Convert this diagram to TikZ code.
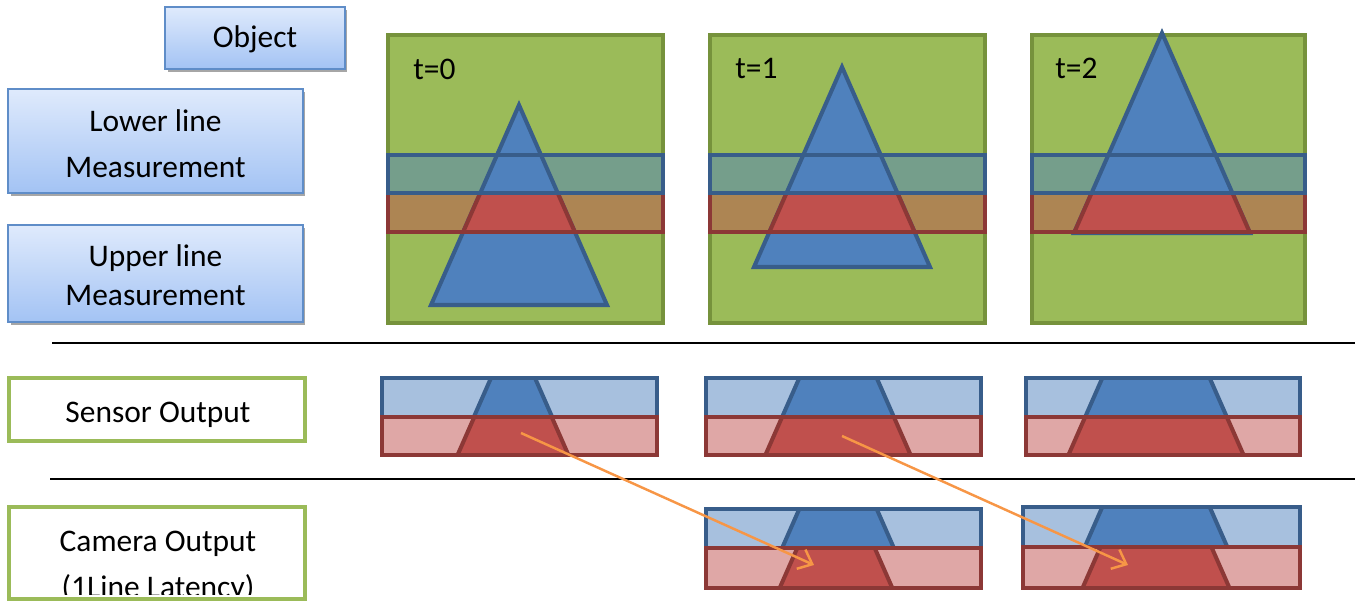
\documentclass[tikz,border=0pt]{standalone}
\usepackage{fontspec}
\setmainfont{Carlito}
\usetikzlibrary{arrows.meta,shadows}
\definecolor{grfill}{HTML}{9BBB59}
\definecolor{grline}{HTML}{76923C}
\definecolor{bfill}{HTML}{4F81BD}
\definecolor{bline}{HTML}{385D8A}
\definecolor{rfill}{HTML}{C0504D}
\definecolor{rline}{HTML}{8C3836}
\definecolor{bandb}{HTML}{759E8B}
\definecolor{bandr}{HTML}{AD8553}
\definecolor{lightb}{HTML}{A7C0DE}
\definecolor{lightr}{HTML}{DFA7A6}
\definecolor{arrcol}{HTML}{F79646}
\definecolor{boxtop}{HTML}{DFEAFC}
\definecolor{boxbot}{HTML}{A3C3F4}
\definecolor{boxline}{HTML}{5F8DC8}
\tikzset{
  bw/.style={line width=2.3pt},
  bluebox/.style={draw=boxline, line width=1.2pt, top color=boxtop, bottom color=boxbot,
    drop shadow={shadow xshift=0.05cm, shadow yshift=-0.06cm, fill=black!35, opacity=1},
    inner sep=0pt},
  greenbox/.style={draw=grfill, line width=2.3pt, fill=white, inner sep=0pt},
  lbl/.style={font=\fontsize{17.9}{21}\selectfont, inner sep=0pt, anchor=base},
  tlbl/.style={font=\fontsize{17.9}{21}\selectfont, inner sep=0pt, anchor=base west},
  orangearrow/.style={draw=arrcol, line width=1.4pt, -{Straight Barb[length=7pt,width=12pt]}},
  sepline/.style={draw=black, line width=1.1pt}
}
% slice: x0,x1,y0,y1,cx,apexy,light,dark,line
\newcommand\myslice[9]{%
  \fill[#7] (#1,#3) rectangle (#2,#4);
  \begin{scope}
    \clip (#1,#3) rectangle (#2,#4);
    \filldraw[fill=#8,draw=#9,bw] (#5,#6) -- ++(-88,200) -- ++(176,0) -- cycle;
  \end{scope}
  \draw[#9,bw] (#1,#3) rectangle (#2,#4);
}
% frame: x0,x1,cx,apexy
\newcommand\myframe[4]{%
  \filldraw[fill=grfill,draw=grline,bw] (#1,35) rectangle (#2,323);
  \fill[bandb] (#1,155) rectangle (#2,193);
  \fill[bandr] (#1,193) rectangle (#2,232);
  \filldraw[fill=bfill,draw=bline,bw] (#3,#4) -- ++(-88,200) -- ++(176,0) -- cycle;
  \begin{scope}
    \clip (#1,193) rectangle (#2,232);
    \filldraw[fill=rfill,draw=rline,bw] (#3,#4) -- ++(-88,200) -- ++(176,0) -- cycle;
  \end{scope}
  \draw[rline,bw] (#1,193) rectangle (#2,232);
  \draw[bline,bw] (#1,155) rectangle (#2,193);
}
\begin{document}
\begin{tikzpicture}[x=0.02cm,y=-0.02cm]
\useasboundingbox (0,0) rectangle (1357,606);
\clip (0,0) rectangle (1357,606);

% left label boxes
\node[bluebox, minimum width=3.6cm, minimum height=1.24cm] (obj) at (255,38) {};
\node[lbl] (objT) at (255,47) {Object};
\node[bluebox, minimum width=5.9cm, minimum height=2.08cm] (low) at (155.5,141) {};
\node[lbl] (lowT1) at (155.5,131) {Lower line};
\node[lbl] (lowT2) at (155.5,177) {Measurement};
\node[bluebox, minimum width=5.9cm, minimum height=1.94cm] (up) at (155.5,273.5) {};
\node[lbl] (upT1) at (155.5,266) {Upper line};
\node[lbl] (upT2) at (155.5,305) {Measurement};
\node[greenbox, minimum width=5.92cm, minimum height=1.26cm] (sens) at (157,409.5) {};
\node[lbl] (sensT) at (158,422) {Sensor Output};
\node[greenbox, minimum width=5.92cm, minimum height=1.84cm] (cam) at (157,553) {};
\node[lbl] (camT1) at (158,551) {Camera Output};
\begin{scope}
  \clip (0,0) rectangle (1357,594);
  \node[lbl] (camT2) at (158,597) {(1Line Latency)};
\end{scope}

% separator lines
\coordinate (s1a) at (52,343);
\coordinate (s1b) at (1355,343);
\coordinate (s2a) at (50,479);
\coordinate (s2b) at (1355,479);
\draw[sepline] (s1a) -- (s1b);
\draw[sepline] (s2a) -- (s2b);

% object frames
\myframe{388}{663}{519}{105}
\node[tlbl] (t0) at (413,79) {t=0};
\myframe{710}{985}{842}{67}
\node[tlbl] (t1) at (735,78) {t=1};
\myframe{1032}{1305}{1162}{33}
\node[tlbl] (t2) at (1055,78) {t=2};

% sensor output
\myslice{382}{657}{378}{417}{513}{328}{lightb}{bfill}{bline}
\myslice{382}{657}{417}{455}{513}{329}{lightr}{rfill}{rline}
\myslice{706}{981}{378}{417}{838}{290}{lightb}{bfill}{bline}
\myslice{706}{981}{417}{455}{838}{290}{lightr}{rfill}{rline}
\myslice{1026}{1300}{378}{417}{1156}{256}{lightb}{bfill}{bline}
\myslice{1026}{1300}{417}{455}{1156}{256}{lightr}{rfill}{rline}

% camera output
\myslice{706}{981}{509}{548}{838}{421}{lightb}{bfill}{bline}
\myslice{706}{981}{548}{588}{836}{460}{lightr}{rfill}{rline}
\myslice{1023}{1300}{507}{547}{1156}{385}{lightb}{bfill}{bline}
\myslice{1023}{1300}{547}{588}{1156}{421}{lightr}{rfill}{rline}

% latency arrows
\coordinate (a0s) at (521,433);
\coordinate (a0e) at (814,565);
\coordinate (a1s) at (842,436);
\coordinate (a1e) at (1128,565);
\draw[orangearrow] (a0s) -- (a0e);
\draw[orangearrow] (a1s) -- (a1e);
\end{tikzpicture}
\end{document}
